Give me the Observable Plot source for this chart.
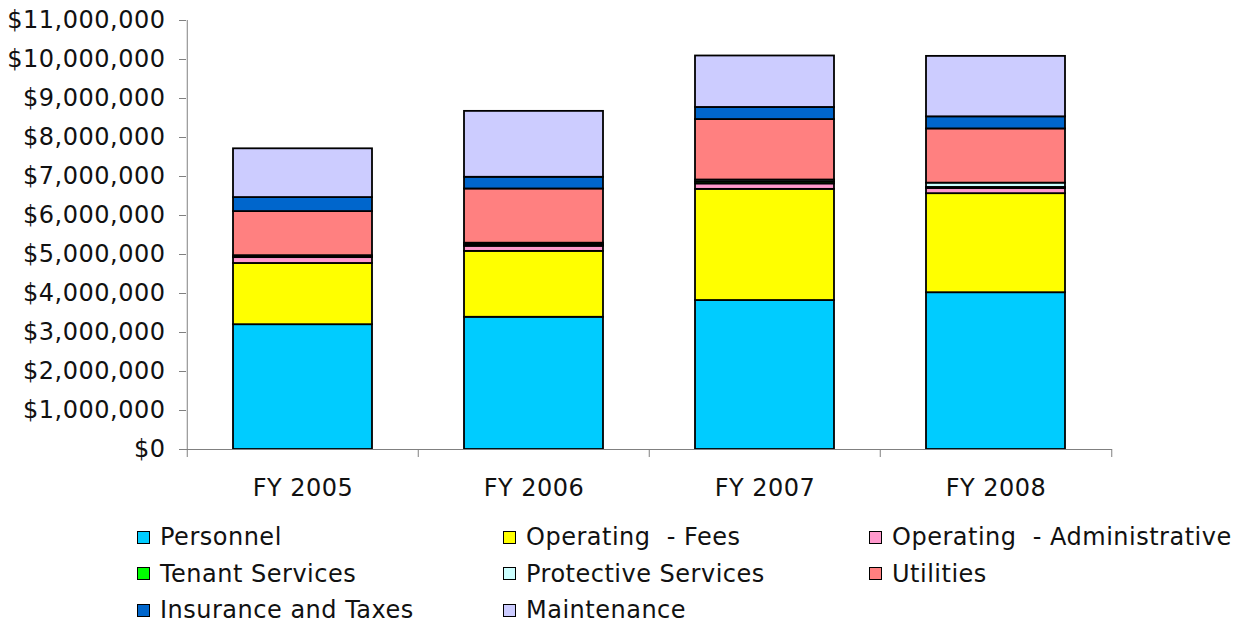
<!DOCTYPE html>
<html><head><meta charset="utf-8">
<script src="https://cdn.jsdelivr.net/npm/d3@7"></script>
<script src="https://cdn.jsdelivr.net/npm/@observablehq/plot@0.6"></script>
<style>
body{margin:0;background:#fff;font-family:"DejaVu Sans",Verdana,sans-serif;}
#chart{position:relative;width:1236px;height:623px;overflow:hidden;}
#chart svg{display:block;}
.legend{position:absolute;left:137px;top:519px;display:grid;grid-template-columns:366px 366px 366px;font-size:24px;letter-spacing:0.5px;line-height:36.5px;color:#111;}
.item{display:flex;align-items:center;white-space:pre;}
.sw{width:11px;height:11px;border:1.5px solid #000;margin-right:10px;flex:none;}
</style></head><body><div id="chart"></div>
<script>
const years = ["FY 2005", "FY 2006", "FY 2007", "FY 2008"];
const categories = ["Personnel", "Operating  - Fees", "Operating  - Administrative", "Tenant Services", "Protective Services", "Utilities", "Insurance and Taxes", "Maintenance"];
const colors = ["#00CCFF", "#FFFF00", "#FF99CC", "#00FF00", "#CCFFFF", "#FF8080", "#0066CC", "#CCCCFF"];
const personnel  = [3200000, 3390000, 3820000, 4020000];
const fees       = [1570000, 1690000, 2850000, 2540000];
const admin      = [ 150000,  130000,  140000,  130000];
const tenant     = [  20000,   40000,   50000,   30000];
const protective = [  30000,   40000,   50000,  110000];
const utilities  = [1130000, 1390000, 1550000, 1390000];
const insurance  = [ 360000,  300000,  310000,  310000];
const maintenance= [1250000, 1690000, 1320000, 1550000];
const yTicks = [0, 1000000, 2000000, 3000000, 4000000, 5000000, 6000000, 7000000, 8000000, 9000000, 10000000, 11000000];

const series = [personnel, fees, admin, tenant, protective, utilities, insurance, maintenance];
const rows = years.flatMap((yr, i) => categories.map((c, j) => ({year: yr, category: c, value: series[j][i]})));

const W = 1236, H = 519, ML = 186, MR = 124, MT = 20, MB = 70;
const step = (W - ML - MR) / years.length;
const axisGray = "#808080";

const chart = Plot.plot({
  width: W, height: H, marginLeft: ML, marginRight: MR, marginTop: MT, marginBottom: MB,
  style: {fontFamily: "'DejaVu Sans', Verdana, sans-serif", fontSize: "24px", color: "#111", background: "#fff", letterSpacing: "0.5px"},
  x: {domain: years, paddingInner: 0.4, paddingOuter: 0.2, label: null},
  y: {domain: [0, 11000000], label: null},
  color: {domain: categories, range: colors},
  marks: [
    Plot.barY(rows, {x: "year", y: "value", fill: "category", stroke: "#000", strokeWidth: 1.8, order: categories}),
    Plot.ruleY([0], {stroke: axisGray}),
    Plot.ruleX([years[0]], {dx: -step / 2, stroke: axisGray}),
    Plot.axisX({tickSize: 8, tickFormat: () => "", dx: -step / 2, stroke: axisGray}),
    Plot.axisX({ticks: [years[years.length - 1]], tickSize: 8, tickFormat: () => "", dx: step / 2, stroke: axisGray}),
    Plot.axisX({tickSize: 0, tickPadding: 29}),
    Plot.axisY({ticks: yTicks, tickFormat: d => "$" + d3.format(",")(d), tickSize: 7, tickPadding: 14, stroke: axisGray})
  ]
});
const root = document.getElementById("chart");
root.appendChild(chart);
const leg = document.createElement("div");
leg.className = "legend";
categories.forEach((c, j) => {
  const it = document.createElement("div"); it.className = "item";
  const sw = document.createElement("span"); sw.className = "sw"; sw.style.background = colors[j];
  const tx = document.createElement("span"); tx.textContent = c;
  it.appendChild(sw); it.appendChild(tx); leg.appendChild(it);
});
root.appendChild(leg);
</script></body></html>
